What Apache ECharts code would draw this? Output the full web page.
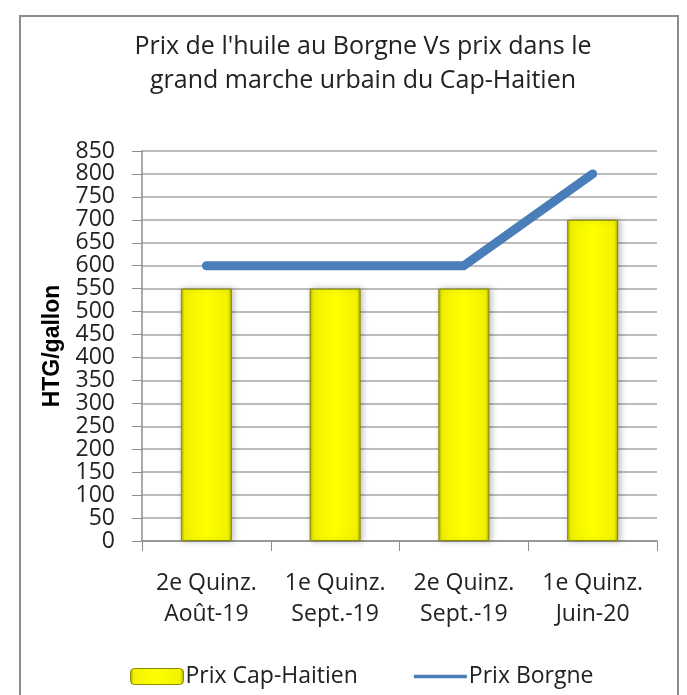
<!DOCTYPE html>
<html>
<head>
<meta charset="utf-8">
<script src="https://cdn.jsdelivr.net/npm/echarts@6/dist/echarts.min.js"></script>
<style>
  html, body { margin: 0; padding: 0; background: #fff; }
  #main { width: 687px; height: 695px; }
</style>
</head>
<body>
<div id="main"></div>
<script>
var categories = ['2e Quinz.\nAoût-19', '1e Quinz.\nSept.-19', '2e Quinz.\nSept.-19', '1e Quinz.\nJuin-20'];
var capHaitien = [550, 550, 550, 700];
var borgne = [600, 600, 600, 800];

var font = "'Open Sans', sans-serif";

var barColor = {
    type: 'linear', x: 0, y: 0, x2: 1, y2: 0,
    colorStops: [
        { offset: 0, color: '#a6a600' },
        { offset: 0.07, color: '#f2f200' },
        { offset: 0.5, color: '#ffff00' },
        { offset: 0.93, color: '#f2f200' },
        { offset: 1, color: '#a6a600' }
    ]
};

var chart = echarts.init(document.getElementById('main'));

var option = {
    backgroundColor: '#fff',
    animation: false,
    graphic: [{
        type: 'rect',
        shape: { x: 20, y: 16, width: 658, height: 700 },
        style: { fill: 'none', stroke: '#8c8c8c', lineWidth: 2 }
    }],
    title: {
        text: "Prix de l'huile au Borgne Vs prix dans le\ngrand marche urbain du Cap-Haitien",
        left: 358,
        textAlign: 'center',
        top: 25,
        textStyle: {
            fontFamily: font,
            fontSize: 25,
            fontWeight: 'normal',
            color: '#222',
            lineHeight: 34
        }
    },
    legend: {
        bottom: 2,
        left: 125,
        itemGap: 56,
        itemWidth: 53,
        itemHeight: 16,
        textStyle: { fontFamily: font, fontSize: 23, color: '#222', padding: [0, 0, 0, -3] },
        data: [
            { name: 'Prix Cap-Haitien', itemStyle: { color: barColor, borderColor: '#8a8a00', borderWidth: 1 } },
            { name: 'Prix Borgne', icon: 'path://M0,6.5 L53,6.5 L53,10 L0,10 Z', itemStyle: { color: '#4a7ebb' } }
        ]
    },
    grid: {
        left: 142,
        right: 30,
        top: 151,
        bottom: 154
    },
    xAxis: {
        type: 'category',
        data: categories,
        axisLine: { lineStyle: { color: '#8c8c8c', width: 1.5 } },
        axisTick: { show: true, length: 10, lineStyle: { color: '#8c8c8c' } },
        axisLabel: {
            interval: 0,
            hideOverlap: false,
            fontFamily: font,
            fontSize: 23,
            color: '#222',
            lineHeight: 31,
            margin: 27
        }
    },
    yAxis: {
        type: 'value',
        min: 0,
        max: 850,
        interval: 50,
        name: 'HTG/gallon',
        nameLocation: 'middle',
        nameGap: 70,
        nameTextStyle: {
            fontFamily: "'Liberation Sans', Arial, sans-serif",
            fontSize: 23,
            fontWeight: 'bold',
            color: '#000'
        },
        axisLine: { show: true, lineStyle: { color: '#8c8c8c', width: 1.5 } },
        axisTick: { show: true, length: 10, lineStyle: { color: '#8c8c8c' } },
        splitLine: { lineStyle: { color: '#a6a6a6', width: 1.5 } },
        axisLabel: {
            hideOverlap: false,
            showMinLabel: true,
            showMaxLabel: true,
            fontFamily: font,
            fontSize: 23,
            color: '#222',
            margin: 27
        }
    },
    series: [{
        name: 'Prix Cap-Haitien',
        type: 'bar',
        data: capHaitien,
        barWidth: 51,
        itemStyle: {
            color: barColor,
            borderColor: '#8a8a00',
            borderWidth: 1,
            shadowColor: 'rgba(0,0,0,0.25)',
            shadowBlur: 6,
            shadowOffsetX: 2,
            shadowOffsetY: 0
        }
    }, {
        name: 'Prix Borgne',
        type: 'line',
        data: borgne,
        symbol: 'none',
        lineStyle: { color: '#4a7ebb', width: 9, cap: 'round', join: 'round' },
        itemStyle: { color: '#4a7ebb' },
        z: 3
    }]
};

chart.setOption(option);
</script>
</body>
</html>
